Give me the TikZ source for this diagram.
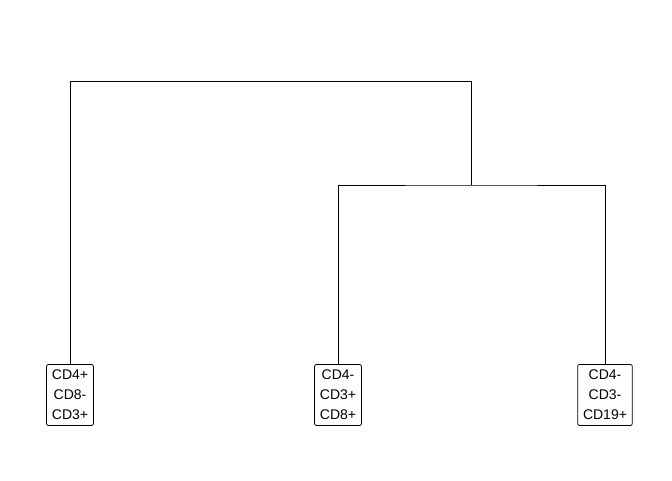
\documentclass[tikz,border=0pt]{standalone}
\usepackage{fontspec}
\setmainfont{Liberation Sans}
\begin{document}
\begin{tikzpicture}[x=0.75pt,y=-0.75pt,
  leaf/.style={draw, rounded corners=1.5pt, line width=0.6pt, align=center, anchor=north,
    font=\fontsize{10.5pt}{15pt}\selectfont, inner xsep=4pt, inner ysep=4.2pt},
  link/.style={line width=0.6pt}]
\useasboundingbox (0,0) rectangle (672,480);
\node[leaf] (a) at (70,364) {CD4+\\CD8-\\CD3+};
\node[leaf] (b) at (338,364) {CD4-\\CD3+\\CD8+};
\node[leaf] (c) at (605,364) {CD4-\\CD3-\\CD19+};
\coordinate (top) at (471,81);
\coordinate (mid) at (471,185);
\draw[link] (a.north) |- (top) -- (mid);
\draw[link] (b.north) |- (mid) -| (c.north);
\end{tikzpicture}
\end{document}
